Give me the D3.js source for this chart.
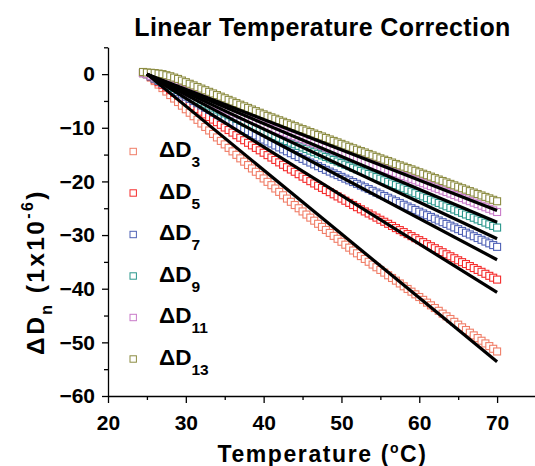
<!DOCTYPE html>
<html>
<head>
<meta charset="utf-8">
<script src="https://cdn.jsdelivr.net/npm/d3@7"></script>
<style>
  body { margin: 0; background: #fff; }
  svg { display: block; font-family: "Liberation Sans", Arial, sans-serif; font-weight: bold; }
</style>
</head>
<body>
<script>
var temps = [24.5, 25, 25.5, 26, 26.5, 27, 27.5, 28, 28.5, 29, 29.5, 30, 30.5, 31, 31.5, 32, 32.5, 33, 33.5, 34, 34.5, 35,
  35.5, 36, 36.5, 37, 37.5, 38, 38.5, 39, 39.5, 40, 40.5, 41, 41.5, 42, 42.5, 43, 43.5, 44, 44.5, 45, 45.5, 46, 46.5, 47,
  47.5, 48, 48.5, 49, 49.5, 50, 50.5, 51, 51.5, 52, 52.5, 53, 53.5, 54, 54.5, 55, 55.5, 56, 56.5, 57, 57.5, 58, 58.5, 59,
  59.5, 60, 60.5, 61, 61.5, 62, 62.5, 63, 63.5, 64, 64.5, 65, 65.5, 66, 66.5, 67, 67.5, 68, 68.5, 69, 69.5, 70];

var dD3 = [0.2, 0, -0.65, -1.3, -1.95, -2.6, -3.25, -3.9, -4.55, -5.2, -5.88, -6.55, -7.2, -7.85, -8.52, -9.2, -9.85, -10.5,
  -11.15, -11.8, -12.45, -13.1, -13.75, -14.4, -15.05, -15.7, -16.32, -16.95, -17.58, -18.2, -18.82, -19.45, -20.08, -20.7,
  -21.32, -21.95, -22.58, -23.2, -23.8, -24.4, -25.0, -25.6, -26.18, -26.75, -27.32, -27.9, -28.48, -29.05, -29.6, -30.15,
  -30.7, -31.25, -31.8, -32.35, -32.88, -33.4, -33.92, -34.45, -34.98, -35.5, -36.0, -36.5, -37.0, -37.5, -38.0, -38.5,
  -39.02, -39.55, -40.05, -40.55, -41.05, -41.55, -42.08, -42.6, -43.1, -43.6, -44.12, -44.65, -45.15, -45.65, -46.18,
  -46.7, -47.2, -47.7, -48.2, -48.7, -49.2, -49.7, -50.2, -50.7, -51.2, -51.7];

var dD5 = [0.2, 0, -0.5, -1.0, -1.5, -2.0, -2.5, -3.0, -3.5, -4.0, -4.5, -5.0, -5.5, -6.0, -6.5, -7.0, -7.5, -8.0, -8.48,
  -8.95, -9.45, -9.95, -10.42, -10.9, -11.38, -11.85, -12.32, -12.8, -13.28, -13.75, -14.2, -14.65, -15.1, -15.55, -16.0,
  -16.45, -16.9, -17.35, -17.78, -18.2, -18.65, -19.1, -19.52, -19.95, -20.38, -20.8, -21.2, -21.6, -22.0, -22.4, -22.8,
  -23.2, -23.6, -24.0, -24.4, -24.8, -25.2, -25.6, -25.98, -26.35, -26.75, -27.15, -27.52, -27.9, -28.3, -28.7, -29.08,
  -29.45, -29.82, -30.2, -30.58, -30.95, -31.32, -31.7, -32.08, -32.45, -32.82, -33.2, -33.58, -33.95, -34.32, -34.7,
  -35.05, -35.4, -35.78, -36.15, -36.5, -36.85, -37.22, -37.6, -37.95, -38.3];

var dD7 = [0.2, 0, -0.42, -0.84, -1.26, -1.68, -2.1, -2.52, -2.94, -3.36, -3.78, -4.2, -4.61, -5.02, -5.43, -5.84, -6.25,
  -6.66, -7.07, -7.48, -7.89, -8.3, -8.69, -9.08, -9.47, -9.86, -10.25, -10.64, -11.03, -11.42, -11.81, -12.2, -12.56,
  -12.93, -13.3, -13.66, -14.02, -14.38, -14.74, -15.1, -15.45, -15.8, -16.14, -16.48, -16.82, -17.16, -17.5, -17.84,
  -18.17, -18.5, -18.82, -19.15, -19.48, -19.8, -20.12, -20.45, -20.78, -21.1, -21.42, -21.75, -22.08, -22.4, -22.72,
  -23.05, -23.38, -23.7, -24.02, -24.35, -24.68, -25.0, -25.32, -25.65, -25.98, -26.3, -26.62, -26.95, -27.28, -27.6,
  -27.92, -28.25, -28.58, -28.9, -29.23, -29.56, -29.89, -30.22, -30.55, -30.88, -31.21, -31.54, -31.87, -32.2];

var dD9 = [0.2, 0, -0.37, -0.74, -1.11, -1.48, -1.85, -2.22, -2.59, -2.96, -3.33, -3.7, -4.07, -4.43, -4.8, -5.16, -5.52,
  -5.88, -6.24, -6.6, -6.96, -7.32, -7.66, -8.0, -8.34, -8.67, -9.0, -9.33, -9.66, -9.98, -10.3, -10.63, -10.94, -11.25,
  -11.56, -11.87, -12.18, -12.48, -12.78, -13.08, -13.38, -13.67, -13.96, -14.26, -14.56, -14.85, -15.14, -15.43, -15.72,
  -16.0, -16.29, -16.58, -16.87, -17.16, -17.45, -17.74, -18.03, -18.32, -18.61, -18.9, -19.19, -19.48, -19.78, -20.08,
  -20.38, -20.68, -20.98, -21.28, -21.58, -21.88, -22.19, -22.5, -22.8, -23.11, -23.42, -23.72, -24.02, -24.33, -24.64,
  -24.94, -25.24, -25.55, -25.86, -26.16, -26.46, -26.77, -27.08, -27.38, -27.68, -27.99, -28.3, -28.6];

var dD11 = [0.2, 0, -0.32, -0.65, -0.98, -1.3, -1.62, -1.95, -2.28, -2.6, -2.92, -3.25, -3.58, -3.9, -4.22, -4.54, -4.86,
  -5.18, -5.5, -5.82, -6.14, -6.46, -6.76, -7.07, -7.37, -7.67, -7.96, -8.26, -8.55, -8.84, -9.12, -9.41, -9.68, -9.96,
  -10.23, -10.5, -10.77, -11.04, -11.3, -11.57, -11.84, -12.1, -12.36, -12.63, -12.9, -13.16, -13.42, -13.69, -13.96,
  -14.22, -14.48, -14.75, -15.02, -15.28, -15.54, -15.81, -16.08, -16.34, -16.6, -16.87, -17.14, -17.4, -17.66, -17.93,
  -18.2, -18.46, -18.73, -19.0, -19.26, -19.53, -19.8, -20.07, -20.34, -20.61, -20.88, -21.16, -21.44, -21.71, -21.98,
  -22.26, -22.54, -22.82, -23.1, -23.39, -23.68, -23.96, -24.24, -24.53, -24.82, -25.11, -25.4, -25.7];

var dD13 = [0.4, 0.3, 0.25, 0.2, 0.1, 0.0, -0.2, -0.4, -0.65, -0.9, -1.2, -1.5, -1.8, -2.1, -2.4, -2.7, -3.0, -3.3, -3.6,
  -3.9, -4.2, -4.5, -4.8, -5.1, -5.4, -5.7, -6.0, -6.3, -6.6, -6.9, -7.2, -7.5, -7.78, -8.05, -8.32, -8.6, -8.88, -9.15,
  -9.42, -9.7, -9.98, -10.25, -10.52, -10.8, -11.08, -11.35, -11.62, -11.9, -12.18, -12.45, -12.72, -13.0, -13.28, -13.55,
  -13.82, -14.1, -14.35, -14.6, -14.88, -15.15, -15.42, -15.7, -15.95, -16.2, -16.48, -16.75, -17.0, -17.25, -17.5, -17.75,
  -18.02, -18.3, -18.57, -18.84, -19.11, -19.38, -19.65, -19.92, -20.19, -20.46, -20.73, -21.0, -21.27, -21.54, -21.81,
  -22.08, -22.35, -22.62, -22.89, -23.16, -23.43, -23.7];

var seriesSub = ["3", "5", "7", "9", "11", "13"];
var seriesData = [dD3, dD5, dD7, dD9, dD11, dD13];
var seriesColors = ["#f07e68", "#f52c2c", "#4f62b6", "#2a978c", "#c97ac9", "#8c8c42"];

// linear correction lines: from (25, 0) to (70, end value)
var fitT = [25, 70];
var fitStart = [0, 0, 0, 0, 0, 0];
var fitEnd = [-53.6, -40.7, -34.6, -30.7, -27.6, -25.4];

var xTicks = [20, 30, 40, 50, 60, 70];
var xMinor = [25, 35, 45, 55, 65, 75];
var yTicks = [0, -10, -20, -30, -40, -50, -60];
var yMinor = [5, -5, -15, -25, -35, -45, -55];

var W = 535, H = 466;
var svg = d3.select("body").append("svg").attr("width", W).attr("height", H);

var x = d3.scaleLinear().domain([20, 75]).range([108, 536]);
var y = d3.scaleLinear().domain([-60, 5]).range([396, 47.3]);

var ms = 7; // marker size

// markers
seriesData.forEach(function (vals, s) {
  var pts = temps.map(function (t, i) { return [t, vals[i]]; });
  svg.append("g").selectAll("rect").data(pts).enter().append("rect")
    .attr("x", function (d) { return x(d[0]) - ms / 2; })
    .attr("y", function (d) { return y(d[1]) - ms / 2; })
    .attr("width", ms).attr("height", ms)
    .attr("fill", "#fff")
    .attr("stroke", seriesColors[s])
    .attr("stroke-width", 1.1);
});

// fit lines on top
var line = d3.line().x(function (d) { return x(d[0]); }).y(function (d) { return y(d[1]); });
fitEnd.forEach(function (e, s) {
  svg.append("path")
    .attr("d", line([[fitT[0], fitStart[s]], [fitT[1], e]]))
    .attr("fill", "none").attr("stroke", "#000").attr("stroke-width", 3.2);
});

// axes
svg.append("g").attr("transform", "translate(0,396)")
  .call(d3.axisBottom(x).tickValues(xTicks).tickSize(7).tickSizeOuter(0).tickPadding(12));
svg.append("g").attr("transform", "translate(0,396)")
  .call(d3.axisBottom(x).tickValues(xMinor).tickSize(4).tickFormat(""))
  .select(".domain").remove();
svg.append("g").attr("transform", "translate(108,0)")
  .call(d3.axisLeft(y).tickValues(yTicks).tickSize(6).tickSizeOuter(0).tickPadding(7));
svg.append("g").attr("transform", "translate(108,0)")
  .call(d3.axisLeft(y).tickValues(yMinor).tickSize(4).tickFormat(""))
  .select(".domain").remove();

svg.selectAll(".tick line, .domain").attr("stroke", "#000").attr("stroke-width", 1.3);
svg.selectAll(".tick text").attr("font-family", "Liberation Sans, Arial, sans-serif")
  .attr("font-weight", "bold").attr("font-size", 21).attr("fill", "#000");

// legend
var legend = svg.append("g");
seriesSub.forEach(function (sub, i) {
  var ly = 151.5 + i * 41.5;
  legend.append("rect").attr("x", 130).attr("y", ly - 3.2).attr("width", 6.4).attr("height", 6.4)
    .attr("fill", "#fff").attr("stroke", seriesColors[i]).attr("stroke-width", 1);
  var t = legend.append("text").attr("x", 159).attr("y", ly + 5.5).attr("font-size", 22.5);
  t.append("tspan").text("\u0394D");
  t.append("tspan").attr("font-size", 15.5).attr("dy", 10).text(sub);
});

// title
svg.append("text").attr("x", 322.5).attr("y", 36).attr("text-anchor", "middle")
  .attr("font-size", 25).attr("letter-spacing", 0.4).text("Linear Temperature Correction");

// x axis title
var xt = svg.append("text").attr("x", 322.5).attr("y", 462).attr("text-anchor", "middle")
  .attr("font-size", 23).attr("letter-spacing", 1.6);
xt.append("tspan").text("Temperature (");
xt.append("tspan").attr("font-size", 14).attr("dy", -9).text("o");
xt.append("tspan").attr("dy", 9).text("C)");

// y axis title
var yt = svg.append("text").attr("transform", "translate(44,272) rotate(-90)")
  .attr("text-anchor", "middle").attr("font-size", 24.5).attr("letter-spacing", 2.4);
yt.append("tspan").text("\u0394D");
yt.append("tspan").attr("font-size", 16).attr("dy", 8).text("n");
yt.append("tspan").attr("dy", -8).text(" (1x10");
yt.append("tspan").attr("font-size", 16).attr("dy", -11).text("-6");
yt.append("tspan").attr("dy", 11).text(")");
</script>
</body>
</html>
